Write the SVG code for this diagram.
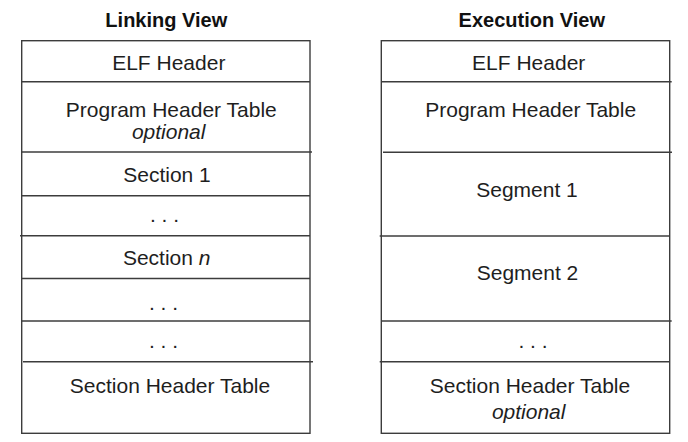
<svg xmlns="http://www.w3.org/2000/svg" width="688" height="442" viewBox="0 0 688 442">
<style>
.bg{fill:#ffffff}
.box{fill:none;stroke:#3c3c3c;stroke-width:1.4}
.sep{stroke:#3c3c3c;stroke-width:1.4}
.t{font-family:"Liberation Sans",Arial,sans-serif;font-size:21px;fill:#1e1e1e;text-anchor:middle}
.i{font-style:italic}
.h{font-family:"Liberation Sans",Arial,sans-serif;font-size:20px;font-weight:bold;fill:#111;text-anchor:middle}
</style>
<rect class="bg" x="0" y="0" width="688" height="442"/>
<g id="linking-view">
  <text class="h" x="166.3" y="26.5">Linking View</text>
  <rect class="box" x="21.7" y="40.7" width="288.3" height="392.6"/>
  <g id="l-elf-header"><text class="t" x="168.8" y="70">ELF Header</text></g>
  <g id="l-pht"><line class="sep" x1="21.7" y1="81.7" x2="310" y2="81.7"/>
    <text class="t" x="171.3" y="117">Program Header Table</text>
    <text class="t i" x="168.7" y="138.5">optional</text></g>
  <g id="l-section1"><line class="sep" x1="21.7" y1="152" x2="312" y2="152"/>
    <text class="t" x="167" y="182">Section 1</text></g>
  <g id="l-dots1"><line class="sep" x1="21.7" y1="195.7" x2="310" y2="195.7"/>
    <text class="t" x="164.5" y="222">. . .</text></g>
  <g id="l-sectionn"><line class="sep" x1="20" y1="235.7" x2="310" y2="235.7"/>
    <text class="t" x="166.7" y="265">Section <tspan class="i">n</tspan></text></g>
  <g id="l-dots2"><line class="sep" x1="21.7" y1="278.5" x2="310" y2="278.5"/>
    <text class="t" x="163.5" y="309.5">. . .</text></g>
  <g id="l-dots3"><line class="sep" x1="21.7" y1="321" x2="310" y2="321"/>
    <text class="t" x="163.5" y="347.5">. . .</text></g>
  <g id="l-sht"><line class="sep" x1="23" y1="361.7" x2="313" y2="361.7"/>
    <text class="t" x="170" y="393.3">Section Header Table</text></g>
</g>
<g id="execution-view">
  <text class="h" x="531.8" y="26.5">Execution View</text>
  <rect class="box" x="381.3" y="40.7" width="288.4" height="392.6"/>
  <g id="e-elf-header"><text class="t" x="528.7" y="70">ELF Header</text></g>
  <g id="e-pht"><line class="sep" x1="381.3" y1="81.7" x2="671.7" y2="81.7"/>
    <text class="t" x="530.7" y="117">Program Header Table</text></g>
  <g id="e-segment1"><line class="sep" x1="383" y1="152.3" x2="672" y2="152.3"/>
    <text class="t" x="527" y="197.3">Segment 1</text></g>
  <g id="e-segment2"><line class="sep" x1="379.7" y1="236" x2="669.7" y2="236"/>
    <text class="t" x="527.5" y="280">Segment 2</text></g>
  <g id="e-dots"><line class="sep" x1="381.3" y1="321" x2="671.7" y2="321"/>
    <text class="t" x="533" y="347.5">. . .</text></g>
  <g id="e-sht"><line class="sep" x1="379.7" y1="361.7" x2="669.7" y2="361.7"/>
    <text class="t" x="530" y="393.3">Section Header Table</text>
    <text class="t i" x="528.7" y="418.5">optional</text></g>
</g>
</svg>
